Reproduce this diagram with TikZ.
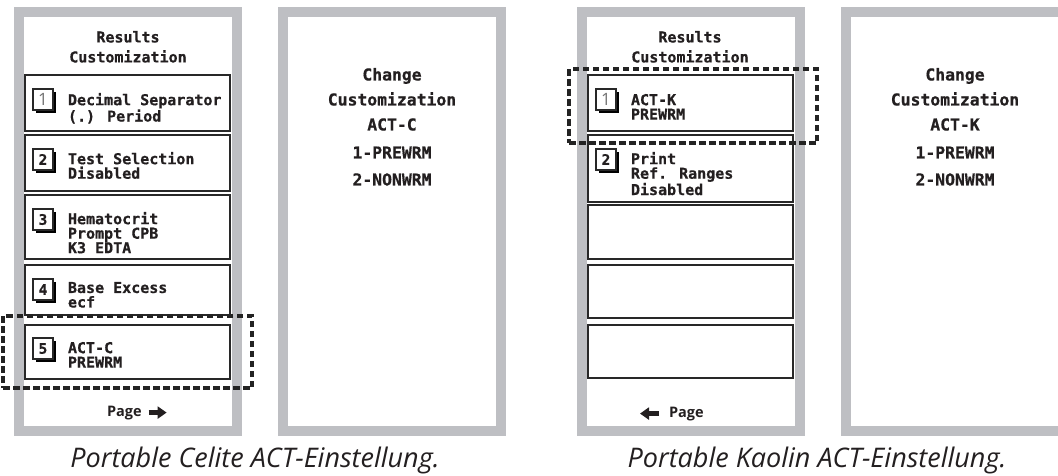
\documentclass[tikz,border=0pt]{standalone}
\usepackage{fontspec}
\setmainfont{Open Sans}
\newfontfamily\scrfont[BoldFeatures={FakeBold=0.6}]{DejaVu Sans Mono}
\newfontfamily\capfont{Open Sans}
\usetikzlibrary{arrows.meta, positioning, fit, shadows}
\definecolor{framegray}{RGB}{190,191,195}
\definecolor{btnborder}{RGB}{40,40,40}
\definecolor{selcolor}{RGB}{35,35,35}
\definecolor{txtcolor}{RGB}{35,31,32}

\begin{document}
\begin{tikzpicture}[x=1pt, y=-1pt,
    every node/.style={inner sep=0pt, outer sep=0pt, text=txtcolor},
    screen/.style={draw=framegray, line width=10pt, fill=white, anchor=north west,
                   minimum width=218pt, minimum height=419pt},
    btn/.style={draw=btnborder, line width=2pt, fill=white, anchor=north west,
                minimum width=205pt},
    numbox/.style={draw=btnborder, line width=1.6pt, fill=white, anchor=north west,
                   minimum width=20pt, minimum height=21pt,
                   font=\scrfont\bfseries\fontsize{14.5}{14.5}\selectfont,
                   drop shadow={shadow xshift=3pt, shadow yshift=-3pt, fill=black, opacity=1}},
    thinnum/.style={font=\rmfamily\fontsize{17}{17}\selectfont, text=black!55},
    btntext/.style={anchor=north west, align=left,
                    font=\scrfont\bfseries\fontsize{15}{14.5}\selectfont},
    hdrtext/.style={anchor=north, align=center,
                    font=\scrfont\bfseries\fontsize{15}{20}\selectfont},
    chgtext/.style={anchor=north, align=center,
                    font=\scrfont\bfseries\fontsize{16.4}{25}\selectfont},
    pagetext/.style={font=\bfseries\fontsize{14.5}{14.5}\selectfont},
    pagearr/.style={line width=4.5pt, draw=txtcolor,
                    -{Triangle[length=9pt,width=12pt]}},
    selbox/.style={draw=selcolor, line width=3.2pt, dash pattern=on 6.5pt off 3.5pt},
    capt/.style={anchor=base, font=\capfont\itshape\fontsize{27}{27}\selectfont},
]
\clip (0,0) rectangle (1058,475);

%% ── Screens ──────────────────────────────────────────────────────────────────
\node[screen] (scrA) at (19,12)  {};
\node[screen] (scrB) at (283,12) {};
\node[screen] (scrC) at (582,12) {};
\node[screen] (scrD) at (846,12) {};

%% ── Celite: results customization ───────────────────────────────────────────
\node[hdrtext] (hdrA) at (128,31) {Results\\Customization};

\node[btn, minimum height=56pt] (a1) at (25,75)  {};
\node[btn, minimum height=56pt] (a2) at (25,135) {};
\node[btn, minimum height=64pt] (a3) at (25,195) {};
\node[btn, minimum height=50pt] (a4) at (25,265) {};
\node[btn, minimum height=54pt] (a5) at (25,325) {};

\node[numbox, thinnum] (na1) at ([xshift=8pt,yshift=-14pt]a1.north west) {1};
\node[numbox] (na2) at ([xshift=8pt,yshift=-14pt]a2.north west) {2};
\node[numbox] (na3) at ([xshift=8pt,yshift=-14pt]a3.north west) {3};
\node[numbox] (na4) at ([xshift=8pt,yshift=-14pt]a4.north west) {4};
\node[numbox] (na5) at ([xshift=8pt,yshift=-13pt]a5.north west) {5};

\node[btntext] (ta1) at ([xshift=43pt,yshift=-18pt]a1.north west) {Decimal Separator\\(.) Period};
\node[btntext] (ta2) at ([xshift=43pt,yshift=-17pt]a2.north west) {Test Selection\\Disabled};
\node[btntext] (ta3) at ([xshift=43pt,yshift=-17pt]a3.north west) {Hematocrit\\Prompt CPB\\K3 EDTA};
\node[btntext] (ta4) at ([xshift=43pt,yshift=-17pt]a4.north west) {Base Excess\\ecf};
\node[btntext] (ta5) at ([xshift=43pt,yshift=-17pt]a5.north west) {ACT-C\\PREWRM};

\node[pagetext, anchor=base west] (pgA) at (107,416) {Page};
\draw[pagearr] ([xshift=7pt]pgA.east) -- ++(18,0);

\node[selbox, fit=(a5), inner xsep=22pt, inner ysep=9pt] (selA) {};

%% ── Celite: change customization ────────────────────────────────────────────
\node[chgtext] (chgB) at (392,68)
  {Change\\Customization\\ACT-C\\[3pt]1-PREWRM\\[2pt]2-NONWRM};

%% ── Kaolin: results customization ───────────────────────────────────────────
\node[hdrtext] (hdrC) at (690,31) {Results\\Customization};

\node[btn, minimum height=56pt] (c1) at (588,75)  {};
\node[btn, minimum height=67pt] (c2) at (588,135) {};
\node[btn, minimum height=54pt] (c3) at (588,205) {};
\node[btn, minimum height=53pt] (c4) at (588,265) {};
\node[btn, minimum height=53pt] (c5) at (588,325) {};

\node[numbox, thinnum] (nc1) at ([xshift=8pt,yshift=-14pt]c1.north west) {1};
\node[numbox] (nc2) at ([xshift=8pt,yshift=-14pt]c2.north west) {2};

\node[btntext] (tc1) at ([xshift=43pt,yshift=-19pt]c1.north west) {ACT-K\\PREWRM};
\node[btntext] (tc2) at ([xshift=43pt,yshift=-17pt]c2.north west) {Print\\Ref. Ranges\\Disabled};

\node[pagetext, anchor=base west] (pgC) at (669,417) {Page};
\draw[pagearr] ([xshift=-10pt]pgC.west) -- ++(-19,0);

\node[selbox, fit=(c1), inner xsep=21.5pt, inner ysep=9pt,
      xshift=2.5pt, yshift=-3pt] (selC) {};

%% ── Kaolin: change customization ────────────────────────────────────────────
\node[chgtext] (chgD) at (955,68)
  {Change\\Customization\\ACT-K\\[3pt]1-PREWRM\\[2pt]2-NONWRM};

%% ── Captions ─────────────────────────────────────────────────────────────────
\node[capt] (capA) at (255,467) {Portable Celite ACT-Einstellung.};
\node[capt] (capC) at (817,467) {Portable Kaolin ACT-Einstellung.};

\end{tikzpicture}
\end{document}
